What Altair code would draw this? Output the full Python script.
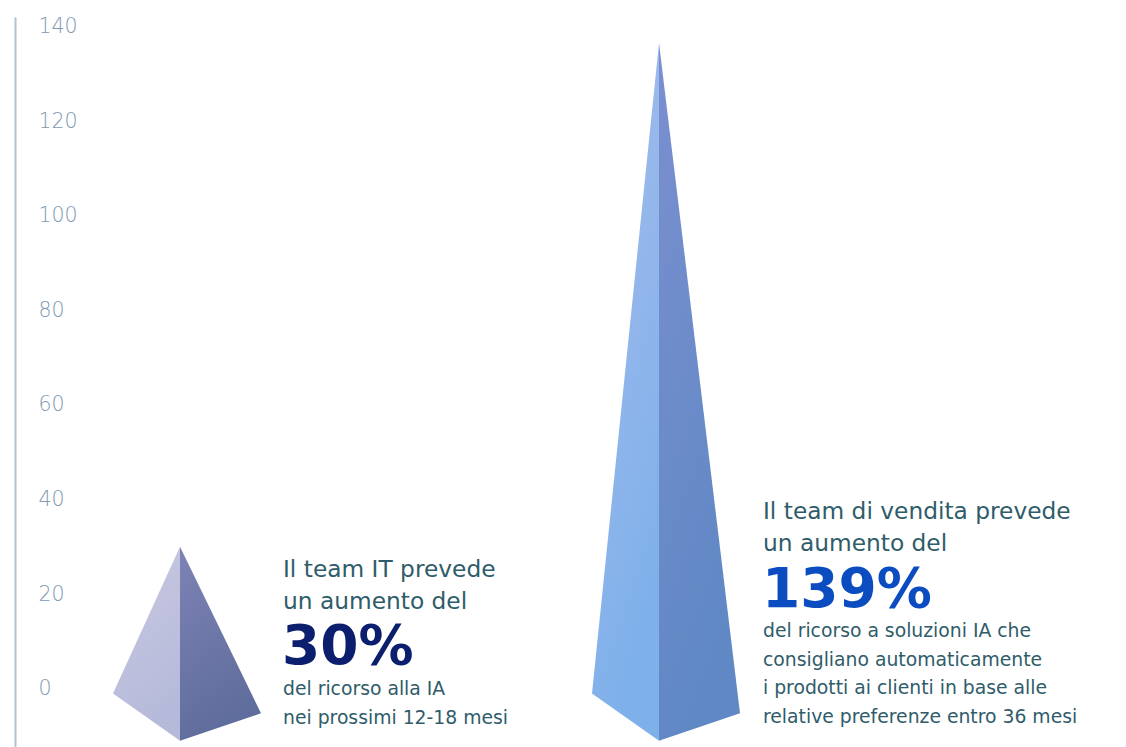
import altair as alt
import pandas as pd

# ---- data ----
categories = ["Team IT", "Team di vendita"]
heights = [30, 136.5]          # apex value on the y scale
percent_labels = ["30%", "139%"]
y_ticks = [0, 20, 40, 60, 80, 100, 120, 140]

left_intro = ["Il team IT prevede", "un aumento del"]
left_tail = ["del ricorso alla IA", "nei prossimi 12-18 mesi"]
right_intro = ["Il team di vendita prevede", "un aumento del"]
right_tail = ["del ricorso a soluzioni IA che", "consigliano automaticamente",
              "i prodotti ai clienti in base alle", "relative preferenze entro 36 mesi"]

# ---- layout constants (pyramid geometry) ----
CX = [165, 644]                 # pyramid centre on the x scale
DX_L, DX_R = -67, 81            # base corners relative to centre
Y_L, Y_B, Y_R = -1.0, -11.0, -5.2  # base corner heights (below 0)

rows = []
for cat, h, cx in zip(categories, heights, CX):
    rows.append(dict(cat=cat, face="L", x=cx + DX_L, y=Y_L, y2=Y_L))
    rows.append(dict(cat=cat, face="L", x=cx, y=h, y2=Y_B))
    rows.append(dict(cat=cat, face="R", x=cx, y=h, y2=Y_B))
    rows.append(dict(cat=cat, face="R", x=cx + DX_R, y=Y_R, y2=Y_R))
df = pd.DataFrame(rows)

W, H = 1100, 738
xs = alt.Scale(domain=[0, W], nice=False, zero=False)
ys = alt.Scale(domain=[-14, 142], nice=False, zero=False)

yaxis = alt.Axis(
    values=y_ticks, title=None, grid=False, ticks=False,
    domain=True, domainColor="#b0c2d3", domainWidth=2,
    labelAlign="left", labelPadding=-23, labelBaseline="middle",
    labelFontSize=20.5, labelColor="#8199b2", labelFont="DejaVu Sans",
    labelFontWeight=200)


def grad(top, bottom):
    return alt.LinearGradient(
        gradient="linear",
        stops=[alt.GradientStop(color=top, offset=0),
               alt.GradientStop(color=bottom, offset=1)],
        x1=0, x2=0.3, y1=0, y2=1)


face_colors = {
    ("Team IT", "L"): grad("#c8c8e1", "#b6bada"),
    ("Team IT", "R"): grad("#7d83b5", "#5f6d9c"),
    ("Team di vendita", "L"): grad("#a6bcec", "#7eb0ea"),
    ("Team di vendita", "R"): grad("#7b8fd0", "#5f88c4"),
}

base = alt.Chart(df)
layers = []
for (cat, face), g in face_colors.items():
    layers.append(
        base.transform_filter(
            (alt.datum.cat == cat) & (alt.datum.face == face)
        ).mark_area(color=g, interpolate="linear").encode(
            x=alt.X("x:Q", scale=xs, axis=None),
            y=alt.Y("y:Q", scale=ys, axis=yaxis),
            y2="y2:Q",
        )
    )

BODY_FONT = "DejaVu Sans"
NUM_FONT = "DejaVu Sans"
TEXT_COL = "#2f5c6a"


def txt(lines, x, y, size, color, font, weight=400, lh=None):
    return alt.Chart(pd.DataFrame({"a": [0]})).mark_text(
        align="left", baseline="alphabetic", font=font, fontSize=size,
        fontWeight=weight, color=color, lineHeight=lh if lh else size * 1.2,
    ).encode(x=alt.value(x), y=alt.value(y), text=alt.value(lines))


OX, OY = 15, 17  # page position of the plot origin
layers += [
    txt(left_intro, 283 - OX, 577 - OY, 23.3, TEXT_COL, BODY_FONT, 400, 32),
    txt([percent_labels[0]], 282 - OX, 664 - OY, 55, "#0b1f6e", NUM_FONT, 700),
    txt(left_tail, 283 - OX, 695 - OY, 18.8, TEXT_COL, BODY_FONT, 400, 28.5),
    txt(right_intro, 763 - OX, 519 - OY, 23.3, TEXT_COL, BODY_FONT, 400, 32),
    txt([percent_labels[1]], 762 - OX, 607 - OY, 55, "#0b4cc0", NUM_FONT, 700),
    txt(right_tail, 763 - OX, 637 - OY, 18.8, TEXT_COL, BODY_FONT, 400, 28.6),
]

chart = alt.layer(*layers).properties(
    width=W, height=H,
    autosize=alt.AutoSizeParams(type="none"),
    padding={"left": 7, "top": 9, "right": 0, "bottom": 0},
).configure_view(strokeWidth=0)

chart.save("out.html", embed_options={"renderer": "svg", "actions": False})
